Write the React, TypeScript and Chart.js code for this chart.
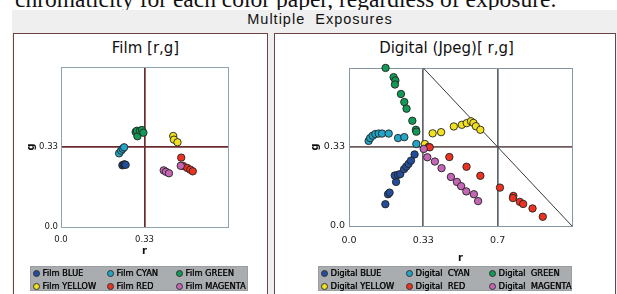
import React, { useEffect, useRef } from "react";
import { Chart, registerables } from "chart.js";

Chart.register(...registerables);

// ---------- data: [r, g] chromaticity pairs ----------
const FILM_BLUE = [[0.245, 0.257], [0.25, 0.26], [0.254, 0.261], [0.258, 0.259]];
const FILM_CYAN = [[0.232, 0.307], [0.24, 0.318], [0.246, 0.326], [0.252, 0.332]];
const FILM_GREEN = [[0.298, 0.396], [0.303, 0.401], [0.305, 0.378], [0.315, 0.401], [0.323, 0.404], [0.329, 0.393]];
const FILM_YELLOW = [[0.448, 0.379], [0.451, 0.364], [0.465, 0.353]];
const FILM_RED = [[0.48, 0.289], [0.488, 0.254], [0.504, 0.246], [0.516, 0.239], [0.526, 0.232]];
const FILM_MAGENTA = [[0.41, 0.236], [0.419, 0.23], [0.431, 0.224], [0.478, 0.255]];

const DIGITAL_BLUE = [[0.163, 0.092], [0.175, 0.134], [0.182, 0.141], [0.211, 0.186], [0.205, 0.213], [0.22, 0.216], [0.23, 0.219], [0.247, 0.24], [0.257, 0.251], [0.267, 0.262], [0.278, 0.276], [0.294, 0.302]];
const DIGITAL_CYAN = [[0.088, 0.359], [0.095, 0.371], [0.106, 0.381], [0.118, 0.388], [0.133, 0.39], [0.148, 0.39], [0.178, 0.39], [0.22, 0.371], [0.248, 0.375], [0.302, 0.346]];
const DIGITAL_GREEN = [[0.164, 0.667], [0.2, 0.628], [0.208, 0.614], [0.206, 0.597], [0.233, 0.557], [0.248, 0.523], [0.258, 0.495], [0.284, 0.444], [0.3, 0.406], [0.302, 0.398]];
const DIGITAL_YELLOW = [[0.34, 0.346], [0.375, 0.391], [0.413, 0.396], [0.47, 0.42], [0.506, 0.427], [0.528, 0.434], [0.547, 0.442], [0.558, 0.435], [0.569, 0.421], [0.589, 0.406]];
const DIGITAL_RED = [[0.357, 0.334], [0.362, 0.332], [0.45, 0.291], [0.527, 0.25], [0.589, 0.212], [0.677, 0.162], [0.737, 0.127], [0.735, 0.118], [0.766, 0.102], [0.781, 0.093], [0.823, 0.074], [0.869, 0.039]];
const DIGITAL_MAGENTA = [[0.335, 0.325], [0.351, 0.29], [0.385, 0.272], [0.415, 0.244], [0.457, 0.207], [0.484, 0.186], [0.503, 0.168], [0.526, 0.146], [0.56, 0.134], [0.579, 0.105]];

// r + g = 1 boundary line (from top edge of the plot to r = 1)
const DIAGONAL = [[1 / 3, 2 / 3], [1, 0]];

const FILM_LABELS = ["Film BLUE", "Film CYAN", "Film GREEN", "Film YELLOW", "Film RED", "Film MAGENTA"];
const DIGITAL_LABELS = ["Digital BLUE", "Digital  CYAN", "Digital  GREEN", "Digital YELLOW", "Digital  RED", "Digital  MAGENTA"];
const SERIES_COLORS = ["#234d9a", "#22a5c7", "#129955", "#f1e11f", "#ec3322", "#c565b5"];

const FILM_X_TICK_VALUES = [0, 1 / 3, 2 / 3];
const FILM_X_TICK_LABELS = ["0.0", "0.33", ""];
const DIGITAL_X_TICK_VALUES = [0, 1 / 3, 2 / 3, 1];
const DIGITAL_X_TICK_LABELS = ["0.0", "0.33", "0.7", ""];
const Y_TICK_VALUES = [0, 1 / 3, 2 / 3];
const Y_TICK_LABELS = ["0.0", "0.33", ""];

const TOP_SENTENCE = "chromaticity for each color paper, regardless of exposure.";
const MAIN_TITLE = "Multiple  Exposures";
const FILM_TITLE = "Film [r,g]";
const DIGITAL_TITLE = "Digital (Jpeg)[ r,g]";

const FONT = "'DejaVu Sans', Verdana, sans-serif";

type PanelSpec = {
  series: number[][][];
  labels: string[];
  diagonal?: number[][];
  xMax: number;
  xTickValues: number[];
  xTickLabels: string[];
  xCenters: number[];
  xCenterColor: string;
  yCenterColor: string;
  frameColor: string;
  padding: { left: number; top: number; right: number; bottom: number };
  yWidth: number;
  xHeight: number;
  tickSize: number;
  xTickPad: number;
  yTickPad: number;
  gPad: number;
};

const near = (a: number, list: number[]) => list.some((v) => Math.abs(v - a) < 1e-6);

function buildConfig(p: PanelSpec): any {
  const datasets: any[] = p.series.map((pts, i) => ({
    label: p.labels[i],
    data: pts.map(([r, g]) => ({ x: r, y: g })),
    backgroundColor: SERIES_COLORS[i],
    borderColor: "#222222",
    pointRadius: 3.7,
    pointBorderWidth: 0.9,
    pointHoverRadius: 3.7,
    showLine: false,
    order: -i,
    clip: false,
  }));
  if (p.diagonal) {
    datasets.push({
      label: "diag",
      data: p.diagonal.map(([r, g]) => ({ x: r, y: g })),
      showLine: true,
      borderColor: "#3a3a3a",
      borderWidth: 1,
      pointRadius: 0,
      order: 100,
      clip: false,
    });
  }
  return {
    type: "scatter",
    data: { datasets },
    options: {
      animation: false,
      responsive: false,
      events: [],
      layout: { padding: p.padding },
      plugins: { legend: { display: false }, tooltip: { enabled: false }, title: { display: false } },
      scales: {
        x: {
          type: "linear",
          min: 0,
          max: p.xMax,
          afterBuildTicks: (axis: any) => {
            axis.ticks = p.xTickValues.map((v) => ({ value: v }));
          },
          afterFit: (axis: any) => {
            axis.height = p.xHeight;
          },
          ticks: {
            autoSkip: false,
            maxRotation: 0,
            minRotation: 0,
            padding: p.xTickPad,
            color: "#1a1a1a",
            font: { family: FONT, size: p.tickSize },
            callback: (_v: any, i: number) => p.xTickLabels[i],
          },
          grid: {
            drawTicks: false,
            color: (ctx: any) => (ctx.tick && near(ctx.tick.value, p.xCenters) ? p.xCenterColor : p.frameColor),
            lineWidth: (ctx: any) => (ctx.tick && near(ctx.tick.value, p.xCenters) ? 1.7 : 1),
          },
          border: { display: true, color: p.frameColor, width: 1 },
          title: {
            display: true,
            text: "r",
            color: "#111",
            font: { family: FONT, size: 10, weight: "bold" },
            padding: { top: 0, bottom: 0 },
          },
        },
        y: {
          type: "linear",
          min: 0,
          max: 2 / 3,
          afterBuildTicks: (axis: any) => {
            axis.ticks = Y_TICK_VALUES.map((v) => ({ value: v }));
          },
          afterFit: (axis: any) => {
            axis.width = p.yWidth;
          },
          ticks: {
            autoSkip: false,
            padding: p.yTickPad,
            color: "#1a1a1a",
            font: { family: FONT, size: p.tickSize },
            callback: (_v: any, i: number) => Y_TICK_LABELS[i],
          },
          grid: {
            drawTicks: false,
            color: (ctx: any) => (ctx.tick && near(ctx.tick.value, [1 / 3]) ? p.yCenterColor : p.frameColor),
            lineWidth: (ctx: any) => (ctx.tick && near(ctx.tick.value, [1 / 3]) ? 1.7 : 1),
          },
          border: { display: true, color: p.frameColor, width: 1 },
          title: {
            display: true,
            text: "g",
            color: "#111",
            font: { family: FONT, size: 10, weight: "bold" },
            padding: { top: p.gPad, bottom: 0 },
          },
        },
      },
    },
  };
}

const FILM_SPEC: PanelSpec = {
  series: [FILM_BLUE, FILM_CYAN, FILM_GREEN, FILM_YELLOW, FILM_RED, FILM_MAGENTA],
  labels: FILM_LABELS,
  xMax: 2 / 3,
  xTickValues: FILM_X_TICK_VALUES,
  xTickLabels: FILM_X_TICK_LABELS,
  xCenters: [1 / 3],
  xCenterColor: "#6a2c2d",
  yCenterColor: "#6a2c2d",
  frameColor: "#8ea3b2",
  padding: { left: 0, top: 33, right: 39, bottom: 37 },
  yWidth: 47,
  xHeight: 30,
  tickSize: 8.5,
  xTickPad: 8,
  yTickPad: 3,
  gPad: 11,
};

const DIGITAL_SPEC: PanelSpec = {
  series: [DIGITAL_BLUE, DIGITAL_CYAN, DIGITAL_GREEN, DIGITAL_YELLOW, DIGITAL_RED, DIGITAL_MAGENTA],
  labels: DIGITAL_LABELS,
  diagonal: DIAGONAL,
  xMax: 1,
  xTickValues: DIGITAL_X_TICK_VALUES,
  xTickLabels: DIGITAL_X_TICK_LABELS,
  xCenters: [1 / 3, 2 / 3],
  xCenterColor: "#5e656b",
  yCenterColor: "#6c5c5c",
  frameColor: "#8597a4",
  padding: { left: 0, top: 34, right: 43, bottom: 30 },
  yWidth: 74,
  xHeight: 38,
  tickSize: 9.5,
  xTickPad: 9,
  yTickPad: 4,
  gPad: 34,
};

function ScatterPanel({ spec, left, top, width, height }: { spec: PanelSpec; left: number; top: number; width: number; height: number }) {
  const ref = useRef<HTMLCanvasElement | null>(null);
  useEffect(() => {
    if (!ref.current) return;
    const chart = new Chart(ref.current, buildConfig(spec));
    return () => chart.destroy();
  }, [spec]);
  return (
    <canvas
      ref={ref}
      width={width}
      height={height}
      style={{ position: "absolute", left, top, width, height, display: "block" }}
    />
  );
}

function Legend({ labels, left, top, width, cols }: { labels: string[]; left: number; top: number; width: number; cols: number[] }) {
  return (
    <div
      style={{
        position: "absolute",
        left,
        top,
        width,
        height: 25,
        background: "#a9adb0",
        border: "1px solid #9a9ea2",
        boxSizing: "border-box",
      }}
    >
      {labels.map((lab, i) => {
        const col = i % 3;
        const row = Math.floor(i / 3);
        return (
          <div
            key={lab}
            style={{
              position: "absolute",
              left: cols[col],
              top: row === 0 ? 0 : 13,
              height: 12,
              display: "flex",
              alignItems: "center",
              whiteSpace: "pre",
              fontFamily: FONT,
              fontSize: 8.3,
              color: "#0a0a0a",
              textShadow: "0.35px 0 0 #0a0a0a",
              lineHeight: "12px",
            }}
          >
            <span
              style={{
                display: "inline-block",
                width: 5,
                height: 5,
                borderRadius: "50%",
                background: SERIES_COLORS[i],
                border: "0.5px solid #333",
                marginRight: 2.5,
              }}
            />
            {lab}
          </div>
        );
      })}
    </div>
  );
}

export default function App() {
  return (
    <div
      style={{
        position: "absolute",
        left: 0,
        top: 0,
        width: 617,
        height: 294,
        overflow: "hidden",
        background: "#ffffff",
      }}
    >
      <div
        style={{
          position: "absolute",
          left: 15,
          top: -12,
          fontFamily: "'Liberation Serif', 'Times New Roman', serif",
          fontSize: 23.5,
          lineHeight: "23.5px",
          whiteSpace: "nowrap",
          color: "#111",
        }}
      >
        {TOP_SENTENCE}
      </div>
      <div style={{ position: "absolute", left: 12, top: 10, width: 605, height: 284, background: "#efefef" }} />
      <div
        style={{
          position: "absolute",
          left: 170,
          width: 300,
          top: 12,
          textAlign: "center",
          fontFamily: "'Liberation Sans', Arial, sans-serif",
          fontSize: 14.5,
          lineHeight: "14px",
          letterSpacing: 1,
          whiteSpace: "pre",
          color: "#111",
        }}
      >
        {MAIN_TITLE}
      </div>
      <div
        style={{
          position: "absolute",
          left: 13,
          top: 33,
          width: 255,
          height: 270,
          boxSizing: "border-box",
          border: "1px solid #6d4444",
          background: "#ffffff",
        }}
      />
      <div
        style={{
          position: "absolute",
          left: 274,
          top: 33,
          width: 342,
          height: 270,
          boxSizing: "border-box",
          border: "1px solid #6d4444",
          background: "#ffffff",
        }}
      />
      <div
        style={{
          position: "absolute",
          left: 45.5,
          width: 200,
          top: 40.6,
          textAlign: "center",
          fontFamily: FONT,
          fontSize: 15,
          lineHeight: "15px",
          whiteSpace: "pre",
          color: "#111",
        }}
      >
        {FILM_TITLE}
      </div>
      <div
        style={{
          position: "absolute",
          left: 346.5,
          width: 200,
          top: 40.6,
          textAlign: "center",
          fontFamily: FONT,
          fontSize: 15,
          lineHeight: "15px",
          whiteSpace: "pre",
          color: "#111",
        }}
      >
        {DIGITAL_TITLE}
      </div>
      <ScatterPanel spec={FILM_SPEC} left={14} top={34} width={253} height={260} />
      <ScatterPanel spec={DIGITAL_SPEC} left={275} top={34} width={340} height={260} />
      <Legend labels={FILM_LABELS} left={30} top={266} width={218} cols={[2, 76, 145]} />
      <Legend labels={DIGITAL_LABELS} left={318} top={266} width={254} cols={[2, 87, 170]} />
    </div>
  );
}
